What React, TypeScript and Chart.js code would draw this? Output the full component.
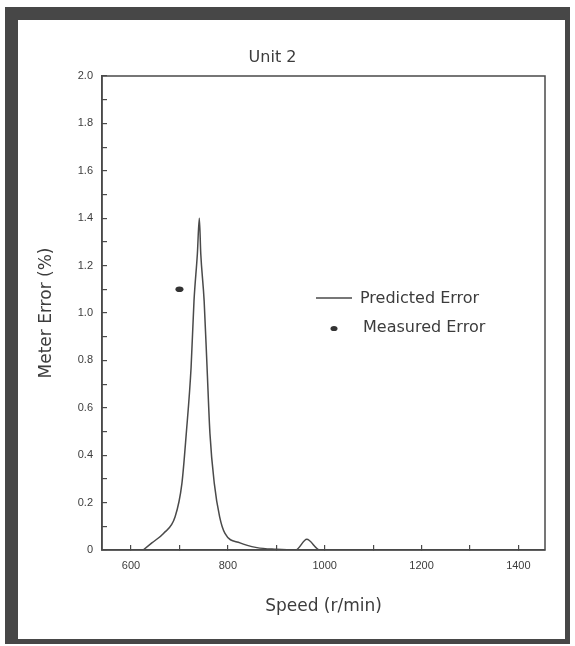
import React, { useEffect, useRef } from 'react';
import { Chart, registerables } from 'chart.js';

Chart.register(...registerables);

const chartTitle = 'Unit 2';
const xAxisTitle = 'Speed (r/min)';
const yAxisTitle = 'Meter Error (%)';
const seriesNames = ['Predicted Error', 'Measured Error'];

const predictedSpeed = [625, 643, 667, 691, 705, 714, 724, 730, 737, 741, 744, 751, 757, 763, 772, 783, 794, 825, 860, 900, 940, 963, 990, 1320];
const predictedError = [0, 0.03, 0.07, 0.14, 0.28, 0.49, 0.77, 1.05, 1.25, 1.4, 1.25, 1.05, 0.77, 0.49, 0.28, 0.14, 0.07, 0.03, 0.01, 0.003, 0, 0.045, 0, 0];

const measuredSpeed = [700];
const measuredError = [1.1];

const xTickValues = [600, 700, 800, 900, 1000, 1100, 1200, 1300, 1400];
const xTickLabels = ['600', '', '800', '', '1000', '', '1200', '', '1400'];
const yTickValues = [0, 0.1, 0.2, 0.3, 0.4, 0.5, 0.6, 0.7, 0.8, 0.9, 1.0, 1.1, 1.2, 1.3, 1.4, 1.5, 1.6, 1.7, 1.8, 1.9, 2.0];
const yTickLabels = ['0', '', '0.2', '', '0.4', '', '0.6', '', '0.8', '', '1.0', '', '1.2', '', '1.4', '', '1.6', '', '1.8', '', '2.0'];

const INK = '#3c3c3c';
const LINE = '#4a4a4a';

export default function App() {
  const ref = useRef<HTMLCanvasElement>(null);

  useEffect(() => {
    if (!ref.current) return;

    const boxPlugin = {
      id: 'boxAndLegend',
      afterDraw(chart: any) {
        const { ctx, chartArea } = chart;
        ctx.save();
        ctx.strokeStyle = LINE;
        ctx.lineWidth = 1.5;
        ctx.strokeRect(chartArea.left, chartArea.top, chartArea.right - chartArea.left, chartArea.bottom - chartArea.top);

        // legend
        ctx.lineWidth = 1.5;
        ctx.beginPath();
        ctx.moveTo(316, 298);
        ctx.lineTo(352, 298);
        ctx.stroke();
        ctx.fillStyle = '#333';
        ctx.beginPath();
        ctx.ellipse(334, 328.5, 3.5, 2.6, 0, 0, Math.PI * 2);
        ctx.fill();
        ctx.fillStyle = INK;
        ctx.font = '16px "DejaVu Sans"';
        ctx.textBaseline = 'middle';
        ctx.textAlign = 'left';
        ctx.fillText(seriesNames[0], 360, 299);
        ctx.fillText(seriesNames[1], 363, 328);
        ctx.restore();
      },
    };

    const chart = new Chart(ref.current, {
      type: 'line',
      data: {
        datasets: [
          {
            label: seriesNames[0],
            data: predictedSpeed.map((x, i) => ({ x, y: predictedError[i] })),
            borderColor: LINE,
            borderWidth: 1.5,
            pointRadius: 0,
            cubicInterpolationMode: 'monotone',
            fill: false,
          },
          {
            label: seriesNames[1],
            data: measuredSpeed.map((x, i) => ({ x, y: measuredError[i] })),
            showLine: false,
            pointStyle: 'rectRounded',
            pointRadius: 0,
            borderWidth: 0,
          },
        ],
      },
      options: {
        responsive: false,
        animation: false,
        layout: { padding: { left: 0, right: 30, top: 20, bottom: 0 } },
        plugins: {
          legend: { display: false },
          tooltip: { enabled: false },
          title: {
            display: true,
            text: chartTitle,
            color: INK,
            font: { family: 'DejaVu Sans', size: 16, weight: 'normal' },
            padding: { top: 28, bottom: 8.8 },
          },
        },
        scales: {
          x: {
            type: 'linear',
            min: 540,
            max: 1455,
            afterBuildTicks: (s: any) => {
              s.ticks = xTickValues.map((v) => ({ value: v }));
            },
            afterFit: (s: any) => {
              s.height = 96;
            },
            ticks: {
              autoSkip: false,
              maxRotation: 0,
              padding: 14.4,
              color: INK,
              font: { family: 'Liberation Sans', size: 11 },
              callback: (_v: any, i: number) => xTickLabels[i],
            },
            grid: { drawOnChartArea: false, drawTicks: true, tickLength: -5, color: LINE, lineWidth: 1.2 },
            border: { color: LINE, width: 1.5 },
            title: {
              display: true,
              text: xAxisTitle,
              color: INK,
              font: { family: 'DejaVu Sans', size: 17 },
              padding: { top: 0, bottom: 28.8 },
            },
          },
          y: {
            type: 'linear',
            min: 0,
            max: 2,
            afterBuildTicks: (s: any) => {
              s.ticks = yTickValues.map((v) => ({ value: v }));
            },
            afterFit: (s: any) => {
              s.width = 102;
            },
            ticks: {
              autoSkip: false,
              padding: 14,
              color: INK,
              font: { family: 'Liberation Sans', size: 11 },
              callback: (_v: any, i: number) => yTickLabels[i],
            },
            grid: { drawOnChartArea: false, drawTicks: true, tickLength: -5, color: LINE, lineWidth: 1.2 },
            border: { color: LINE, width: 1.5 },
            title: {
              display: true,
              text: yAxisTitle,
              color: INK,
              font: { family: 'DejaVu Sans', size: 17 },
              padding: { top: 36.8, bottom: 0 },
            },
          },
        },
      },
      plugins: [
        boxPlugin,
        {
          id: 'measuredDots',
          afterDatasetsDraw(chart: any) {
            const { ctx } = chart;
            const xs = chart.scales.x;
            const ys = chart.scales.y;
            ctx.save();
            ctx.fillStyle = '#333';
            measuredSpeed.forEach((sp, i) => {
              ctx.beginPath();
              ctx.ellipse(xs.getPixelForValue(sp), ys.getPixelForValue(measuredError[i]), 4, 2.8, 0, 0, Math.PI * 2);
              ctx.fill();
            });
            ctx.restore();
          },
        },
      ],
    } as any);

    return () => chart.destroy();
  }, []);

  return (
    <div style={{ position: 'fixed', left: 0, top: 0, width: 575, height: 646, background: '#fff' }}>
      <canvas ref={ref} width={575} height={646} style={{ display: 'block', width: 575, height: 646 }} />
      <div
        style={{
          position: 'absolute',
          left: 5,
          top: 7,
          width: 565,
          height: 637,
          boxSizing: 'border-box',
          borderStyle: 'solid',
          borderColor: '#474747',
          borderWidth: '13px 5px 5px 13px',
          pointerEvents: 'none',
        }}
      />
    </div>
  );
}
